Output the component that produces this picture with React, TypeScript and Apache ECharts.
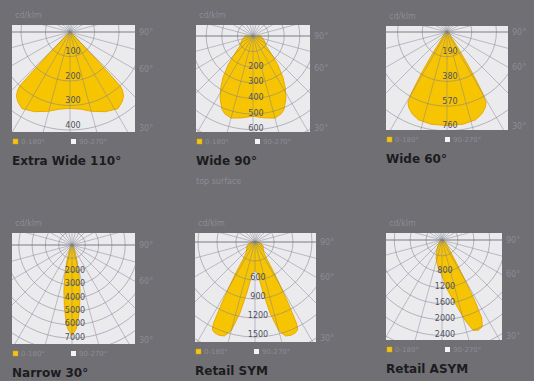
import React, { useEffect, useRef } from 'react';
import * as echarts from 'echarts';

// ---- texts ----
const panelTitles = ['Extra Wide 110°', 'Wide 90°', 'Wide 60°', 'Narrow 30°', 'Retail SYM', 'Retail ASYM'];
const panelSubtitles = ['', 'top surface', '', '', '', ''];
const unitLabel = 'cd/klm';
const legendLabels = ['0-180°', '90-270°'];
const angleTickLabels = ['90°', '60°', '30°'];

// ---- ring grid / tick labels ----
const ringSteps = [100, 100, 190, 1000, 300, 400];
const ringLabels = [
  [100, 200, 300, 400],
  [200, 300, 400, 500, 600],
  [190, 380, 570, 760],
  [2000, 3000, 4000, 5000, 6000, 7000],
  [600, 900, 1200, 1500],
  [800, 1200, 1600, 2000, 2400],
];
const gridAngles = [0, 15, 30, 45, 60, 75, 90, 105, 120, 135, 150, 165];

// ---- light distributions (angle from nadir in degrees, cd/klm) ----
const extraWideAngles = [0, 8, 15, 24, 32, 37, 40, 42, 43, 43.5, 44, 45, 48, 55, 70, 90];
const extraWideCd = [312, 318, 335, 356, 369, 355, 340, 320, 300, 200, 120, 60, 25, 10, 3, 0];

const wide90Angles = [0, 8, 15, 20, 23, 28, 32, 36, 41, 46, 52, 60, 70, 80, 90];
const wide90Cd = [515, 530, 545, 530, 510, 450, 390, 326, 240, 160, 110, 90, 75, 60, 50];

const wide60Angles = [0, 10, 18, 23, 27, 29, 30, 31, 32, 33, 35, 40, 50, 60, 75, 90];
const wide60Cd = [720, 720, 710, 685, 650, 620, 560, 450, 350, 250, 130, 50, 30, 15, 5, 0];

const narrowAngles = [0, 3, 5, 7, 10, 13, 18, 25, 35, 50, 70, 90];
const narrowCd = [6800, 6300, 5500, 4700, 3500, 2400, 1200, 500, 200, 80, 30, 10];

const symAngles = [0, 5, 9, 12, 15, 18, 21, 24, 26, 27, 28.5, 30, 32, 35, 40, 50, 60, 70, 80, 90];
const symCd = [450, 500, 800, 1150, 1450, 1560, 1580, 1570, 1540, 1450, 1100, 800, 550, 320, 220, 170, 150, 120, 80, 40];

const asymAngles = [-90, -60, -40, -25, -18, -10, 0, 6, 12, 16, 19, 22, 25, 27, 28.5, 30, 32, 35, 40, 50, 65, 90];
const asymCd = [20, 60, 150, 330, 480, 650, 900, 1250, 1650, 2100, 2400, 2450, 2400, 2200, 1700, 1100, 700, 400, 250, 140, 70, 20];

// ---- styling / layout ----
const BG = '#6f6f74';
const BOX = '#ebebed';
const GRID_LINE = 'rgba(125,127,140,0.65)';
const YELLOW = '#f7c400';
const YELLOW_EDGE = '#e9ab00';
const LABEL = '#4d5260';
const FAINT = '#8d8d92';
const TITLE = '#1c1c1e';
const FONT = '"DejaVu Sans", "Noto Sans", sans-serif';

const panels = [
  { L: 12, T: 25, R: 135, B: 132, cx: 70, cy: 32, s: 0.245, off: -5 },
  { L: 196, T: 25, R: 310, B: 132, cx: 253, cy: 36, s: 0.156, off: -1 },
  { L: 386, T: 26, R: 508, B: 130, cx: 447, cy: 32, s: 0.13, off: -5 },
  { L: 12, T: 233, R: 135, B: 344, cx: 72, cy: 245, s: 0.0133, off: -1 },
  { L: 195, T: 233, R: 316, B: 342, cx: 255, cy: 242, s: 0.0633, off: -2 },
  { L: 386, T: 233, R: 502, B: 340, cx: 442, cy: 240, s: 0.03975, off: -1 },
];

function mirror(angles: number[], values: number[]): number[][] {
  const out: number[][] = [];
  for (let i = angles.length - 1; i > 0; i--) out.push([-angles[i], values[i]]);
  for (let i = 0; i < angles.length; i++) out.push([angles[i], values[i]]);
  return out;
}

const curves: number[][][] = [
  mirror(extraWideAngles, extraWideCd),
  mirror(wide90Angles, wide90Cd),
  mirror(wide60Angles, wide60Cd),
  mirror(narrowAngles, narrowCd),
  mirror(symAngles, symCd),
  asymAngles.map((a, i) => [a, asymCd[i]]),
];

function buildOption() {
  const grid: any[] = [];
  const xAxis: any[] = [];
  const yAxis: any[] = [];
  const series: any[] = [];
  const graphic: any[] = [];

  panels.forEach((p, i) => {
    grid.push({
      left: p.L, top: p.T, width: p.R - p.L, height: p.B - p.T,
      show: true, backgroundColor: BOX, borderWidth: 0,
    });
    xAxis.push({ type: 'value', gridIndex: i, min: -(p.cx - p.L) / p.s, max: (p.R - p.cx) / p.s, show: false });
    yAxis.push({ type: 'value', gridIndex: i, min: -(p.B - p.cy) / p.s, max: (p.cy - p.T) / p.s, show: false });

    const curve = curves[i];
    series.push({
      type: 'custom', xAxisIndex: i, yAxisIndex: i, clip: true, z: 2, silent: true,
      data: [0],
      renderItem: (_params: any, api: any) => {
        const pts = curve.map(([a, v]) => {
          const t = (a * Math.PI) / 180;
          return api.coord([v * Math.sin(t), -v * Math.cos(t)]);
        });
        return {
          type: 'polygon',
          shape: { points: pts },
          style: { fill: YELLOW, stroke: YELLOW_EDGE, lineWidth: 1, lineJoin: 'round' },
        };
      },
    });

    // rings
    const diag = Math.hypot(Math.max(p.cx - p.L, p.R - p.cx), Math.max(p.B - p.cy, p.cy - p.T)) / p.s;
    const rings: number[] = [];
    for (let r = ringSteps[i]; r <= diag + ringSteps[i]; r += ringSteps[i]) rings.push(r);
    series.push({
      type: 'custom', xAxisIndex: i, yAxisIndex: i, clip: true, z: 3, silent: true,
      data: rings,
      renderItem: (_params: any, api: any) => {
        const v = api.value(0);
        const c = api.coord([0, 0]);
        const e = api.coord([v, 0]);
        return {
          type: 'circle',
          shape: { cx: c[0], cy: c[1], r: e[0] - c[0] },
          style: { fill: 'none', stroke: GRID_LINE, lineWidth: 0.8 },
        };
      },
    });

    // radial lines
    series.push({
      type: 'custom', xAxisIndex: i, yAxisIndex: i, clip: true, z: 3, silent: true,
      data: gridAngles,
      renderItem: (_params: any, api: any) => {
        const a = (api.value(0) * Math.PI) / 180;
        const L = diag * 2;
        const p1 = api.coord([-L * Math.sin(a), L * Math.cos(a)]);
        const p2 = api.coord([L * Math.sin(a), -L * Math.cos(a)]);
        return {
          type: 'line',
          shape: { x1: p1[0], y1: p1[1], x2: p2[0], y2: p2[1] },
          style: { stroke: api.value(0) === 90 ? 'rgba(95,97,110,0.8)' : GRID_LINE, lineWidth: api.value(0) === 90 ? 1 : 0.7 },
        };
      },
    });

    // ring labels
    series.push({
      type: 'custom', xAxisIndex: i, yAxisIndex: i, clip: false, z: 4, silent: true,
      data: ringLabels[i],
      renderItem: (_params: any, api: any) => {
        const v = api.value(0);
        const e = api.coord([0, -v]);
        return {
          type: 'text',
          x: e[0] + 3,
          y: e[1] + p.off,
          style: { text: String(v), fill: LABEL, font: `8px ${FONT}`, align: 'center', verticalAlign: 'middle' },
        };
      },
    });

    // unit label
    graphic.push({
      type: 'text', x: p.L + 3, y: p.T - 10,
      style: { text: unitLabel, fill: FAINT, font: `8px ${FONT}`, verticalAlign: 'middle' },
    });

    // angle labels on the right
    const y60 = p.cy + (p.R - p.cx) * Math.tan(Math.PI / 6);
    const ys = [p.cy, y60, p.B - 4];
    angleTickLabels.forEach((t, k) => {
      graphic.push({
        type: 'text', x: p.R + 4, y: ys[k],
        style: { text: t, fill: FAINT, font: `8px ${FONT}`, verticalAlign: 'middle' },
      });
    });

    // legend
    const ly = p.B + 10;
    graphic.push({ type: 'rect', shape: { x: p.L + 1, y: ly - 3, width: 5, height: 5 }, style: { fill: '#f0c419', stroke: '#d9a900', lineWidth: 0.5 } });
    graphic.push({ type: 'text', x: p.L + 9, y: ly, style: { text: legendLabels[0], fill: FAINT, font: `7px ${FONT}`, verticalAlign: 'middle' } });
    graphic.push({ type: 'rect', shape: { x: p.L + 59, y: ly - 3, width: 5, height: 5 }, style: { fill: '#f4f4f4' } });
    graphic.push({ type: 'text', x: p.L + 67, y: ly, style: { text: legendLabels[1], fill: FAINT, font: `7px ${FONT}`, verticalAlign: 'middle' } });

    // title
    graphic.push({
      type: 'text', x: p.L, y: p.B + 29,
      style: { text: panelTitles[i], fill: TITLE, font: `bold 12px ${FONT}`, verticalAlign: 'middle' },
    });
    if (panelSubtitles[i]) {
      graphic.push({
        type: 'text', x: p.L, y: p.B + 49,
        style: { text: panelSubtitles[i], fill: FAINT, font: `8px ${FONT}`, verticalAlign: 'middle' },
      });
    }
  });

  return {
    animation: false,
    backgroundColor: BG,
    grid, xAxis, yAxis, series, graphic,
  };
}

export default function App() {
  const ref = useRef<HTMLDivElement>(null);
  useEffect(() => {
    const chart = echarts.init(ref.current!, null, { renderer: 'svg' });
    chart.setOption(buildOption() as any);
    return () => chart.dispose();
  }, []);
  return <div ref={ref} style={{ position: 'fixed', left: 0, top: 0, width: 534, height: 381 }} />;
}
